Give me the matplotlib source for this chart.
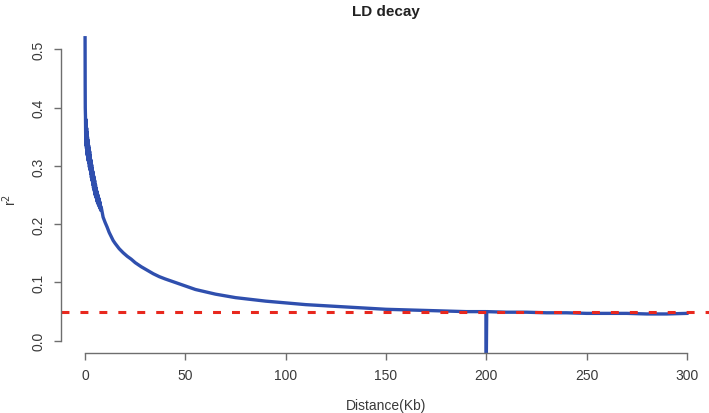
import numpy as np
from matplotlib import pyplot as plt

plt.rcParams['font.family'] = ['Liberation Sans', 'DejaVu Sans']

# distancia (Kb) y r^2
distancia = [0, 0.05, 0.1, 0.2, 0.3, 0.4, 0.5, 0.6, 0.7, 0.8, 0.9, 1.0, 1.1, 1.2, 1.3, 1.4, 1.5, 1.6, 1.7, 1.8, 1.9,
             2.0, 2.15, 2.3, 2.45, 2.6, 2.8, 3.0, 3.15, 3.3, 3.45, 3.6, 3.8, 4.0, 4.2, 4.4, 4.6, 4.8, 5.0, 5.2, 5.4, 5.6,
             5.8, 6.0, 6.25, 6.5, 6.75, 7.0, 7.25, 7.5, 7.75, 8.0,
             9, 10, 11, 12, 13, 14, 15, 17, 19, 21, 23, 25, 28, 31, 34, 37, 40, 45, 50,
             55, 60, 65, 70, 75, 80, 90, 100, 110, 120, 130, 140, 150, 160, 170, 180, 190,
             199.8, 200, 200.2, 210, 220, 230, 240, 250, 260, 270, 280, 290, 300]
r2 = [0.52, 0.44, 0.40, 0.385, 0.35, 0.38, 0.335, 0.372, 0.33, 0.365, 0.322, 0.358, 0.318, 0.35, 0.315, 0.345, 0.31, 0.34, 0.308, 0.335, 0.305,
      0.33, 0.298, 0.325, 0.293, 0.318, 0.287, 0.31, 0.28, 0.302, 0.275, 0.296, 0.268, 0.29, 0.262, 0.282, 0.257, 0.275, 0.25, 0.268, 0.246, 0.262,
      0.24, 0.256, 0.236, 0.25, 0.232, 0.244, 0.228, 0.238, 0.224, 0.23,
      0.212, 0.203, 0.195, 0.186, 0.179, 0.172, 0.167, 0.158, 0.151, 0.145, 0.140, 0.134, 0.127, 0.121, 0.115, 0.110, 0.106, 0.100, 0.094,
      0.088, 0.084, 0.080, 0.077, 0.074, 0.072, 0.068, 0.065, 0.062, 0.060, 0.058, 0.056, 0.054, 0.053, 0.052, 0.051, 0.050,
      0.050, -0.03, 0.050, 0.049, 0.049, 0.048, 0.048, 0.047, 0.047, 0.047, 0.046, 0.046, 0.047]

umbral = 0.05
xticks = [0, 50, 100, 150, 200, 250, 300]
yticks = [0.0, 0.1, 0.2, 0.3, 0.4, 0.5]

fig = plt.figure(figsize=(7.09, 4.14), dpi=100)
ax = fig.add_axes([61/709, 60/414, 650/709, 324/414])

gris = '#6e6e6e'
ax.plot(distancia, r2, color='#2f4fae', lw=2.4, solid_joinstyle='round')
ax.axhline(umbral, color='#e8281e', lw=2.2, linestyle=(0, (2.6, 3.6)))

ax.set_xlim(-12, 312)
ax.set_ylim(-0.021, 0.535)
ax.set_xticks(xticks)
ax.set_yticks(yticks)
ax.set_yticklabels(['0.0', '0.1', '0.2', '0.3', '0.4', '0.5'])

for s in ['top', 'right']:
    ax.spines[s].set_visible(False)
ax.spines['left'].set_bounds(0, 0.5)
ax.spines['bottom'].set_bounds(0, 300)
for s in ['left', 'bottom']:
    ax.spines[s].set_color(gris)
    ax.spines[s].set_linewidth(1.0)
ax.tick_params(colors=gris, labelcolor='#3a3a3a', labelsize=10, length=5, width=1.0)
ax.tick_params(axis='x', pad=6)
ax.tick_params(axis='y', pad=6, labelrotation=90)
for lab in ax.get_yticklabels():
    lab.set_va('center')

ax.set_title('LD decay', fontsize=11, fontweight='bold', color='#222222', pad=10)
fig.text(386/709, 1 - 406/414, 'Distance(Kb)', ha='center', va='center', fontsize=10, color='#3a3a3a')
fig.text(10/709, 1 - 200/414, r'r$^2$', ha='center', va='center', rotation=90, fontsize=10, color='#3a3a3a')

plt.savefig('out.png', dpi=100)
